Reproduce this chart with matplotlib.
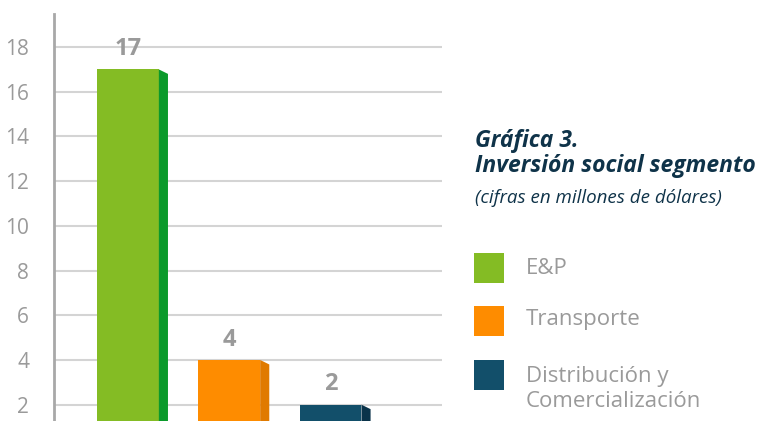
import matplotlib.pyplot as plt
from matplotlib.patches import Polygon, Rectangle

# Data
segments = ['E&P', 'Transporte', 'Distribución y\nComercialización']
values = [17, 4, 2]
front_colors = ['#84BC24', '#FE8C00', '#124F6A']
side_colors = ['#0B9A2B', '#E07A00', '#0A334A']
yticks = [2, 4, 6, 8, 10, 12, 14, 16, 18]

plt.rcParams['font.family'] = ['Open Sans', 'DejaVu Sans']

W, H = 776, 421
fig = plt.figure(figsize=(W / 100, H / 100), dpi=100)
ax = fig.add_axes([54 / W, 0, (442 - 54) / W, (H - 14) / H])

ymin, ymax = 1.27, 19.48
ax.set_xlim(-0.73, 3.10)
ax.set_ylim(ymin, ymax)

bar_w = 0.61
dx, dy = 0.09, 0.2
xs = range(len(values))
for x, v, fc, sc in zip(xs, values, front_colors, side_colors):
    ax.bar(x, v, width=bar_w, color=fc, zorder=3)
    r = x + bar_w / 2
    side = Polygon([(r, v), (r + dx, v - dy), (r + dx, 0), (r, 0)],
                   closed=True, facecolor=sc, edgecolor='none', zorder=3)
    ax.add_patch(side)
    ax.annotate(str(v), (x, v), xytext=(0, 6), textcoords='offset points',
                ha='center', va='bottom', fontsize=17, fontweight='bold',
                color='#9a9a9a')

ax.set_yticks(yticks)
ax.set_xticks([])
ax.yaxis.grid(True, color='#d4d4d4', linewidth=1.5, zorder=0)
ax.set_axisbelow(True)
for s in ['top', 'right', 'bottom']:
    ax.spines[s].set_visible(False)
ax.spines['left'].set_color('#a8a8a8')
ax.spines['left'].set_linewidth(2)
ax.tick_params(axis='y', length=0, pad=18, labelsize=15, labelcolor='#9a9a9a')

# Title block
def fy(y):
    return 1 - y / H

fig.text(475 / W, fy(141), 'Gráfica 3.', fontsize=16.5, fontweight='bold',
         style='italic', color='#0F3349', va='center', ha='left')
fig.text(475 / W, fy(166), 'Inversión social segmento', fontsize=16.5,
         fontweight='bold', style='italic', color='#0F3349', va='center', ha='left')
fig.text(475 / W, fy(198), '(cifras en millones de dólares)', fontsize=13.5,
         style='italic', color='#0F3349', va='center', ha='left')

# Legend
legend_y = [268, 319, 389]
square_y = [268, 321, 375]
for name, fc, ly, sy in zip(segments, front_colors, legend_y, square_y):
    fig.patches.append(Rectangle((474 / W, fy(sy + 15)), 30 / W, 30 / H,
                                 transform=fig.transFigure, facecolor=fc,
                                 edgecolor='none'))
    fig.text(526 / W, fy(ly), name, fontsize=16, color='#9a9a9a',
             va='center', ha='left', linespacing=1.3)

fig.savefig('out.png', dpi=100)
